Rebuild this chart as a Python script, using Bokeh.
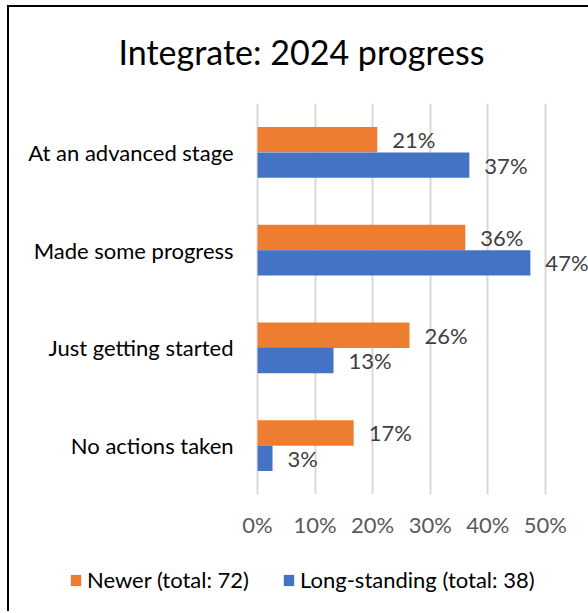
from bokeh.plotting import figure
from bokeh.layouts import column
from bokeh.models import FactorRange, Range1d, Legend, LegendItem, FixedTicker, ColumnDataSource, Div
from bokeh.transform import dodge
from bokeh.core.properties import value
from bokeh.embed import file_html
from bokeh.resources import INLINE

# ---- data ----
title_text = "Integrate: 2024 progress"
categories = ["At an advanced stage", "Made some progress", "Just getting started", "No actions taken"]
newer = [20.8, 36.1, 26.4, 16.7]
long_standing = [36.8, 47.4, 13.2, 2.6]
series_names = ["Newer (total: 72)", "Long-standing (total: 38)"]
series_colors = ["#ED7D31", "#4472C4"]
x_ticks = [0, 10, 20, 30, 40, 50]
x_tick_labels = ["0%", "10%", "20%", "30%", "40%", "50%"]

FONT = "Lato"
FS = "22px"

# title strip
title = Div(text=title_text, width=579, height=78,
            styles={"font-family": "Lato", "font-size": "34px", "color": "#000000",
                    "text-align": "center", "line-height": "80px", "text-indent": "-4px",
                    "overflow": "hidden"})

p = figure(
    width=579, height=455,
    y_range=FactorRange(factors=categories[::-1]),
    x_range=Range1d(-43.1, 57.5),
    output_backend="svg", toolbar_location=None,
    min_border_left=0, min_border_right=0, min_border_top=8, min_border_bottom=56,
)
p.outline_line_color = None
p.background_fill_color = "white"
p.border_fill_color = "white"

src_new = ColumnDataSource(dict(cat=categories, val=newer, lab=[f"{round(v)}%" for v in newer]))
src_long = ColumnDataSource(dict(cat=categories, val=long_standing, lab=[f"{round(v)}%" for v in long_standing]))
src_cat = ColumnDataSource(dict(cat=categories, zero=[0] * len(categories)))

p.hbar(y=dodge("cat", 0.13, range=p.y_range), left=0, right="val", height=0.26,
       source=src_new, fill_color=series_colors[0], line_color=None)
p.hbar(y=dodge("cat", -0.13, range=p.y_range), left=0, right="val", height=0.26,
       source=src_long, fill_color=series_colors[1], line_color=None)

for src, off in ((src_new, 0.13), (src_long, -0.13)):
    p.text(x="val", y=dodge("cat", off, range=p.y_range), text="lab", source=src,
           x_offset=15, text_align="left", text_baseline="middle",
           text_font=value(FONT), text_font_size=FS, text_color="#404040")

# category labels (y axis labels)
p.text(x="zero", y="cat", text="cat", source=src_cat, x_offset=-24,
       text_align="right", text_baseline="middle",
       text_font=value(FONT), text_font_size=FS, text_color="#000000")

# axes
p.xaxis.ticker = FixedTicker(ticks=x_ticks)
p.xaxis.major_label_overrides = {t: l for t, l in zip(x_ticks, x_tick_labels)}
p.xaxis.axis_line_color = None
p.xaxis.major_tick_line_color = None
p.xaxis.minor_tick_line_color = None
p.xaxis.major_label_text_font = FONT
p.xaxis.major_label_text_font_size = FS
p.xaxis.major_label_text_color = "#595959"
p.xaxis.major_label_standoff = 10
p.yaxis.visible = False

p.ygrid.grid_line_color = None
p.xgrid.ticker = FixedTicker(ticks=x_ticks)
p.xgrid.grid_line_color = "#D9D9D9"
p.xgrid.grid_line_width = 2

# legend strip (swatches come from zero-size renderers)
pl = figure(width=579, height=61, x_range=Range1d(0, 1), y_range=Range1d(0, 1),
            output_backend="svg", toolbar_location=None,
            min_border_left=0, min_border_right=0, min_border_top=0, min_border_bottom=0)
pl.xaxis.visible = False
pl.yaxis.visible = False
pl.xgrid.grid_line_color = None
pl.ygrid.grid_line_color = None
pl.outline_line_color = None
pl.border_fill_color = "white"
swatch_src = ColumnDataSource(dict(y=[0.5], left=[0], right=[0]))
l1 = pl.hbar(y="y", left="left", right="right", height=0, source=swatch_src,
             fill_color=series_colors[0], line_color=None)
l2 = pl.hbar(y="y", left="left", right="right", height=0, source=swatch_src,
             fill_color=series_colors[1], line_color=None)
legend = Legend(items=[LegendItem(label=series_names[0], renderers=[l1]),
                       LegendItem(label=series_names[1], renderers=[l2])],
                orientation="horizontal", location=(60, 18),
                glyph_width=13, glyph_height=14, label_standoff=5, spacing=33,
                padding=0, margin=0, border_line_color=None, background_fill_alpha=0,
                label_text_font=FONT, label_text_font_size=FS, label_text_color="#000000")
pl.add_layout(legend)

layout = column(title, p, pl, spacing=0,
                styles={"border-left": "2px solid black", "border-top": "2px solid black",
                        "margin-left": "7px", "margin-top": "5px"})

open("out.html", "w").write(file_html(layout, INLINE))
